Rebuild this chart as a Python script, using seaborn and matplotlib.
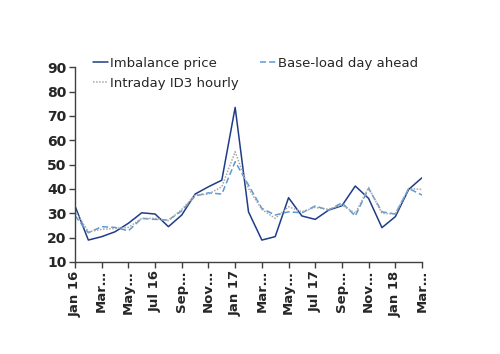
import pandas as pd
import matplotlib
matplotlib.use("Agg")
import matplotlib.pyplot as plt
import seaborn as sns

# Monthly prices Jan 2016 - Mar 2018
months = ["Jan 16", "Feb 16", "Mar 16", "Apr 16", "May 16", "Jun 16", "Jul 16", "Aug 16", "Sep 16",
          "Oct 16", "Nov 16", "Dec 16", "Jan 17", "Feb 17", "Mar 17", "Apr 17", "May 17", "Jun 17",
          "Jul 17", "Aug 17", "Sep 17", "Oct 17", "Nov 17", "Dec 17", "Jan 18", "Feb 18", "Mar 18"]
imbalance = [33, 19, 20.4, 22.4, 25.9, 30.2, 29.7, 24.5, 29.3, 37.9, 40.9, 43.6, 73.5,
             30.6, 19, 20.4, 36.4, 28.9, 27.5, 31.3, 33.1, 41.2, 36.1, 24.1, 28.6, 39.8, 44.6]
baseload = [29, 22, 24.5, 24.2, 22.8, 27.9, 27.5, 27.2, 31, 37.1, 38.4, 37.9, 51.2,
            41.6, 32, 29.3, 30.6, 30.2, 33, 31.3, 34.3, 28.9, 40.2, 30.6, 29.7, 40.2, 37.5]
intraday = [31, 22.4, 23.4, 23.8, 24.2, 27.9, 27.9, 27, 31.6, 37.5, 37.9, 40.9, 55.3,
            40.2, 31.6, 27.9, 32.7, 30.6, 32.4, 31.6, 33.4, 30, 40.6, 30, 29.7, 40.2, 39.8]
tick_labels = ["Jan 16", "Mar…", "May…", "Jul 16", "Sep…", "Nov…", "Jan 17",
               "Mar…", "May…", "Jul 17", "Sep…", "Nov…", "Jan 18", "Mar…"]

series = ["Imbalance price", "Base-load day ahead", "Intraday ID3 hourly"]
df = pd.DataFrame({
    "month": list(range(len(months))) * 3,
    "price": imbalance + baseload + intraday,
    "series": [series[0]] * len(months) + [series[1]] * len(months) + [series[2]] * len(months),
})

sns.set_style("white")
plt.rcParams["font.family"] = ["DejaVu Sans"]

fig, ax = plt.subplots(figsize=(5, 3.54), dpi=100)
fig.subplots_adjust(left=0.15, right=0.844, top=0.81, bottom=0.26)

palette = {series[0]: "#1F3C88", series[1]: "#5B9BD5", series[2]: "#A6A6A6"}
dashes = {series[0]: "", series[1]: (4, 2), series[2]: (1, 1)}
sns.lineplot(data=df, x="month", y="price", hue="series", style="series",
             palette=palette, dashes=dashes, linewidth=1.1, ax=ax)

ax.set_xlim(0, len(months) - 1)
ax.set_ylim(10, 90)
ax.set_yticks(range(10, 91, 10))
ax.set_yticklabels([str(v) for v in range(10, 91, 10)], fontsize=10, fontweight="bold")
ax.set_xticks(range(0, len(months), 2))
ax.set_xticklabels(tick_labels, rotation=90, fontsize=9.5, fontweight="bold")
ax.set_xlabel("")
ax.set_ylabel("")
ax.tick_params(axis="both", direction="out", length=4, width=1, color="#404040",
               bottom=True, left=True, pad=2)
sns.despine(ax=ax)
for side in ["left", "bottom"]:
    ax.spines[side].set_color("#404040")
    ax.spines[side].set_linewidth(1)

# legend: row 1 Imbalance / Base-load, row 2 Intraday (column-major fill)
handles, labels = ax.get_legend_handles_labels()
order = [labels.index(series[0]), labels.index(series[2]), labels.index(series[1])]
ax.get_legend().remove()
fig.legend([handles[i] for i in order], [labels[i] for i in order],
           loc="upper left", bbox_to_anchor=(0.185, 0.84), ncol=2, frameon=False,
           fontsize=9.5, handlelength=1.2, handletextpad=0.15, columnspacing=1.6,
           labelspacing=0.55, borderaxespad=0, borderpad=0)

fig.savefig("out.png", dpi=100)
